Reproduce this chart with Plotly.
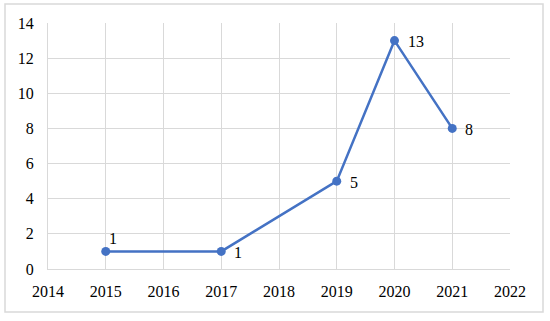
import plotly.graph_objects as go

years = [2015, 2017, 2019, 2020, 2021]
counts = [1, 1, 5, 13, 8]
label_above = [True, False, False, False, False]

W, H = 550, 321
L, R, T, B = 48, 40, 23, 52
pw, ph = W - L - R, H - T - B

def px_to_paper_x(px):
    return (px - L) / pw

def px_to_paper_y(py):
    return (H - B - py) / ph

SERIF = "Liberation Serif"

fig = go.Figure()
fig.add_trace(go.Scatter(
    x=years, y=counts, mode="lines+markers",
    line=dict(color="#4472C4", width=2.5),
    marker=dict(color="#4472C4", size=9),
    cliponaxis=False, showlegend=False, hoverinfo="skip",
))

annotations = []
for yr, c, above in zip(years, counts, label_above):
    if above:
        annotations.append(dict(x=yr, y=c, xref="x", yref="y", text=str(c),
                                showarrow=False, xanchor="center", yanchor="middle",
                                xshift=7, yshift=13,
                                font=dict(family=SERIF, size=16, color="#000000")))
    else:
        annotations.append(dict(x=yr, y=c, xref="x", yref="y", text=str(c),
                                showarrow=False, xanchor="left", yanchor="middle",
                                xshift=11, yshift=-1,
                                font=dict(family=SERIF, size=16, color="#000000")))

fig.update_layout(
    width=W, height=H,
    margin=dict(l=L, r=R, t=T, b=B, autoexpand=False),
    paper_bgcolor="white", plot_bgcolor="white",
    font=dict(family=SERIF, size=16, color="#000000"),
    xaxis=dict(range=[2014, 2022], dtick=1, tick0=2014, showgrid=True,
               gridcolor="#d9d9d9", gridwidth=1, zeroline=False,
               showline=True, linecolor="#d9d9d9", linewidth=1,
               ticks="", ticklabelstandoff=8, automargin=False,
               tickfont=dict(family=SERIF, size=16)),
    yaxis=dict(range=[0, 14], dtick=2, showgrid=True,
               gridcolor="#d9d9d9", gridwidth=1, zeroline=False,
               showline=True, linecolor="#d9d9d9", ticks="", ticklabelstandoff=10,
               automargin=False, tickfont=dict(family=SERIF, size=16)),
    annotations=annotations,
    shapes=[dict(type="rect", xref="paper", yref="paper",
                 x0=px_to_paper_x(5), x1=px_to_paper_x(543),
                 y0=px_to_paper_y(312), y1=px_to_paper_y(4),
                 line=dict(color="#d9d9d9", width=1.5), layer="below")],
)

fig.write_html("out.html", post_script="document.body.style.margin='0';",
               config={"displayModeBar": False})
